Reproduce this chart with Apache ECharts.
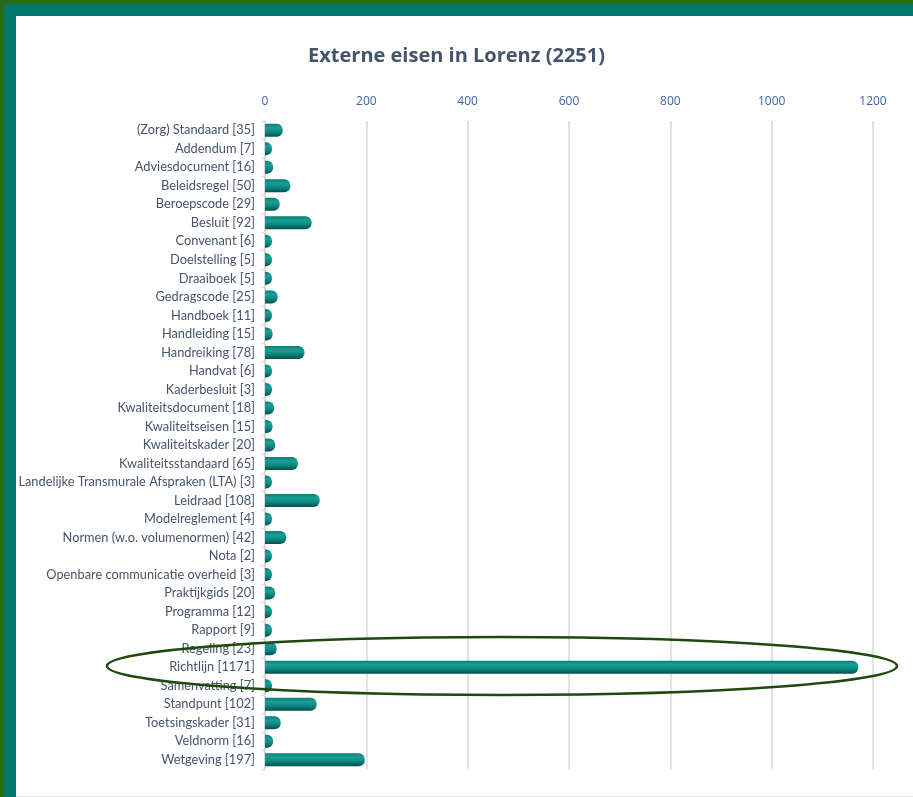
<!DOCTYPE html>
<html>
<head>
<meta charset="utf-8">
<script src="https://cdn.jsdelivr.net/npm/echarts@6/dist/echarts.min.js"></script>
<style>
  html, body { margin: 0; padding: 0; width: 913px; height: 797px; overflow: hidden; background: #fff; }
  #frame { position: absolute; left: 0; top: 0; width: 913px; height: 797px; background: #2b6b12; }
  #teal { position: absolute; left: 4px; top: 4px; right: 0; bottom: 0; background: #00766e; }
  #white { position: absolute; left: 12px; top: 12px; right: 0; bottom: 0; background: #fff; border-bottom: 1px solid #dde7e8; box-sizing: border-box; }
  #chart { position: absolute; left: 0; top: 0; width: 913px; height: 797px; }
</style>
</head>
<body>
<div id="frame"><div id="teal"><div id="white"></div></div></div>
<div id="chart"></div>
<script>
const titleText = 'Externe eisen in Lorenz (2251)';
const categories = [
  '(Zorg) Standaard [35]', 'Addendum [7]', 'Adviesdocument [16]', 'Beleidsregel [50]',
  'Beroepscode [29]', 'Besluit [92]', 'Convenant [6]', 'Doelstelling [5]', 'Draaiboek [5]',
  'Gedragscode [25]', 'Handboek [11]', 'Handleiding [15]', 'Handreiking [78]', 'Handvat [6]',
  'Kaderbesluit [3]', 'Kwaliteitsdocument [18]', 'Kwaliteitseisen [15]', 'Kwaliteitskader [20]',
  'Kwaliteitsstandaard [65]', 'Landelijke Transmurale Afspraken (LTA) [3]', 'Leidraad [108]',
  'Modelreglement [4]', 'Normen (w.o. volumenormen) [42]', 'Nota [2]',
  'Openbare communicatie overheid [3]', 'Praktijkgids [20]', 'Programma [12]', 'Rapport [9]',
  'Regeling [23]', 'Richtlijn [1171]', 'Samenvatting [7]', 'Standpunt [102]',
  'Toetsingskader [31]', 'Veldnorm [16]', 'Wetgeving [197]'
];
const values = [35, 7, 16, 50, 29, 92, 6, 5, 5, 25, 11, 15, 78, 6, 3, 18, 15, 20, 65, 3, 108,
  4, 42, 2, 3, 20, 12, 9, 23, 1171, 7, 102, 31, 16, 197];
const axisMin = 0, axisMax = 1200, axisStep = 200;

const chart = echarts.init(document.getElementById('chart'), null, { renderer: 'canvas' });
const barGradient = new echarts.graphic.LinearGradient(0, 0, 0, 1, [
  { offset: 0, color: '#0d7a73' },
  { offset: 0.3, color: '#17a096' },
  { offset: 0.6, color: '#0e8a82' },
  { offset: 1, color: '#05504b' }
]);
chart.setOption({
  animation: false,
  title: {
    text: titleText, left: 'center', top: 41,
    textStyle: { fontFamily: 'Open Sans', fontWeight: 'bold', fontSize: 20, color: '#44546a' }
  },
  grid: { left: 265, right: 40, top: 121, bottom: 28, containLabel: false },
  xAxis: {
    type: 'value', position: 'top', min: axisMin, max: axisMax, interval: axisStep,
    axisLine: { show: false }, axisTick: { show: false },
    axisLabel: { color: '#3e64a8', fontFamily: 'Open Sans', fontSize: 12, margin: 13,
      formatter: v => String(v) },
    splitLine: { show: true, lineStyle: { color: '#d9d9d9', width: 1.5 } }
  },
  yAxis: {
    type: 'category', data: categories, inverse: true,
    axisLine: { show: true, lineStyle: { color: '#d9d9d9', width: 1.5 } },
    axisTick: { show: true, length: 4, lineStyle: { color: '#d9d9d9' } },
    axisLabel: { color: '#44546a', fontFamily: 'Lato', fontSize: 12.8, margin: 10, interval: 0 }
  },
  series: [{
    type: 'bar', data: values, barWidth: 13, barMinHeight: 7,
    itemStyle: { color: barGradient, borderRadius: [0, 6, 6, 0] }
  }],
  graphic: [{
    type: 'ellipse', z: 100,
    shape: { cx: 502, cy: 666, rx: 395, ry: 29 },
    style: { fill: 'none', stroke: '#1e4a0e', lineWidth: 2.5 }
  }]
});
</script>
</body>
</html>
